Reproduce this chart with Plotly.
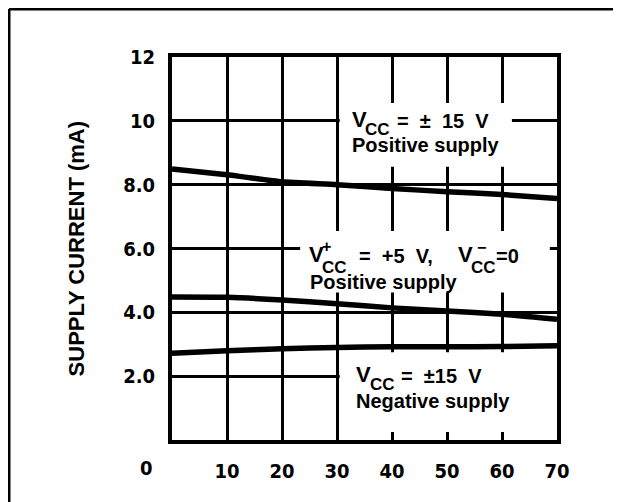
import plotly.graph_objects as go

# ---- data ----
temps = [0, 10, 20, 30, 40, 50, 60, 70]
pos_15v = [8.49, 8.31, 8.09, 8.00, 7.88, 7.78, 7.69, 7.57]
pos_5v = [4.48, 4.47, 4.39, 4.27, 4.14, 4.04, 3.94, 3.78]
neg_15v = [2.72, 2.80, 2.86, 2.90, 2.92, 2.92, 2.93, 2.95]

x_ticks = [10, 20, 30, 40, 50, 60, 70]
x_labels = ["10", "20", "30", "40", "50", "60", "70"]
y_ticks = [2, 4, 6, 8, 10, 12]
y_labels = ["2.0", "4.0", "6.0", "8.0", "10", "12"]
y_title = "SUPPLY CURRENT (mA)"

TICKFONT = dict(family="DejaVu Sans Condensed, Liberation Sans", size=20, color="black", weight="bold")
TXTFONT = dict(family="Liberation Sans, Arial", size=20, color="black", weight="bold")
BIG = dict(TXTFONT, size=22)
SUB = dict(TXTFONT, size=17)
MARK = dict(TXTFONT, size=16)

fig = go.Figure()
for series in (pos_15v, pos_5v, neg_15v):
    fig.add_trace(go.Scatter(x=temps, y=series, mode="lines",
                             line=dict(color="black", width=5.5, shape="spline", smoothing=0.5),
                             showlegend=False, hoverinfo="skip"))

# white masks that interrupt the grid behind the labels
masks = [(30.5, 8.56, 61.8, 10.56), (23.3, 4.62, 68.7, 6.55), (30.5, 0.25, 70, 2.75)]
for x0, y0, x1, y1 in masks:
    fig.add_shape(type="rect", xref="x", yref="y", x0=x0, x1=x1, y0=y0, y1=y1,
                  fillcolor="white", line=dict(width=0), layer="between")

# outer frame (top and left)
fig.add_shape(type="line", xref="paper", yref="paper", x0=-0.4234, x1=1.25, y0=1.1253, y1=1.1253,
              line=dict(color="black", width=3))
fig.add_shape(type="line", xref="paper", yref="paper", x0=-0.4234, x1=-0.4234, y0=1.1253, y1=-0.25,
              line=dict(color="black", width=3))

ann = []
def txt(x, y, s, font=TXTFONT, xanchor="left", ref="x"):
    ann.append(dict(x=x, y=y, xref=ref, yref=ref.replace("x", "y"), text=s, showarrow=False,
                    xanchor=xanchor, yanchor="middle", font=font))

# VCC = ±15 V, positive supply
txt(32.4, 10.03, "V", BIG)
txt(34.8, 9.72, "CC", SUB)
txt(40.6, 10.0, "=  ±  15  V")
txt(32.4, 9.25, "Positive supply")

# V+CC = +5 V, V-CC = 0, positive supply
txt(24.5, 5.8, "V", BIG)
txt(28.1, 6.05, "+", MARK, xanchor="center")
txt(26.9, 5.42, "CC", SUB)
txt(33.6, 5.77, "=  +5  V,")
txt(51.6, 5.8, "V", BIG)
txt(56.3, 6.02, "−", MARK, xanchor="center")
txt(54.0, 5.42, "CC", SUB)
txt(58.6, 5.77, "=0")
txt(24.7, 4.95, "Positive supply")

# VCC = ±15 V, negative supply
txt(33.1, 2.04, "V", BIG)
txt(35.6, 1.74, "CC", SUB)
txt(41.2, 2.01, "=  ±15  V")
txt(33.1, 1.22, "Negative supply")

txt(-0.065, -0.073, "0", TICKFONT, xanchor="center", ref="paper")

ann.append(dict(x=-0.247, y=0.5, xref="paper", yref="paper", text=y_title, showarrow=False,
                textangle=-90, xanchor="center", yanchor="middle",
                font=dict(family="Liberation Sans, Arial", size=22, color="black", weight="bold")))

fig.update_layout(
    width=613, height=494,
    margin=dict(l=164, r=64, t=49, b=62),
    paper_bgcolor="white", plot_bgcolor="white",
    annotations=ann,
    xaxis=dict(range=[0, 70], tickvals=x_ticks, ticktext=x_labels, tickfont=TICKFONT,
               showgrid=True, gridcolor="black", gridwidth=2.5,
               showline=True, linecolor="black", linewidth=4, mirror=True,
               ticks="", ticklabelstandoff=10, zeroline=False, fixedrange=True),
    yaxis=dict(range=[0, 12], tickvals=y_ticks, ticktext=y_labels, tickfont=TICKFONT,
               showgrid=True, gridcolor="black", gridwidth=2.5,
               showline=True, linecolor="black", linewidth=4, mirror=True,
               ticks="", ticklabelstandoff=9, zeroline=False, fixedrange=True),
)
fig.write_html("out.html", config={"displayModeBar": False})
